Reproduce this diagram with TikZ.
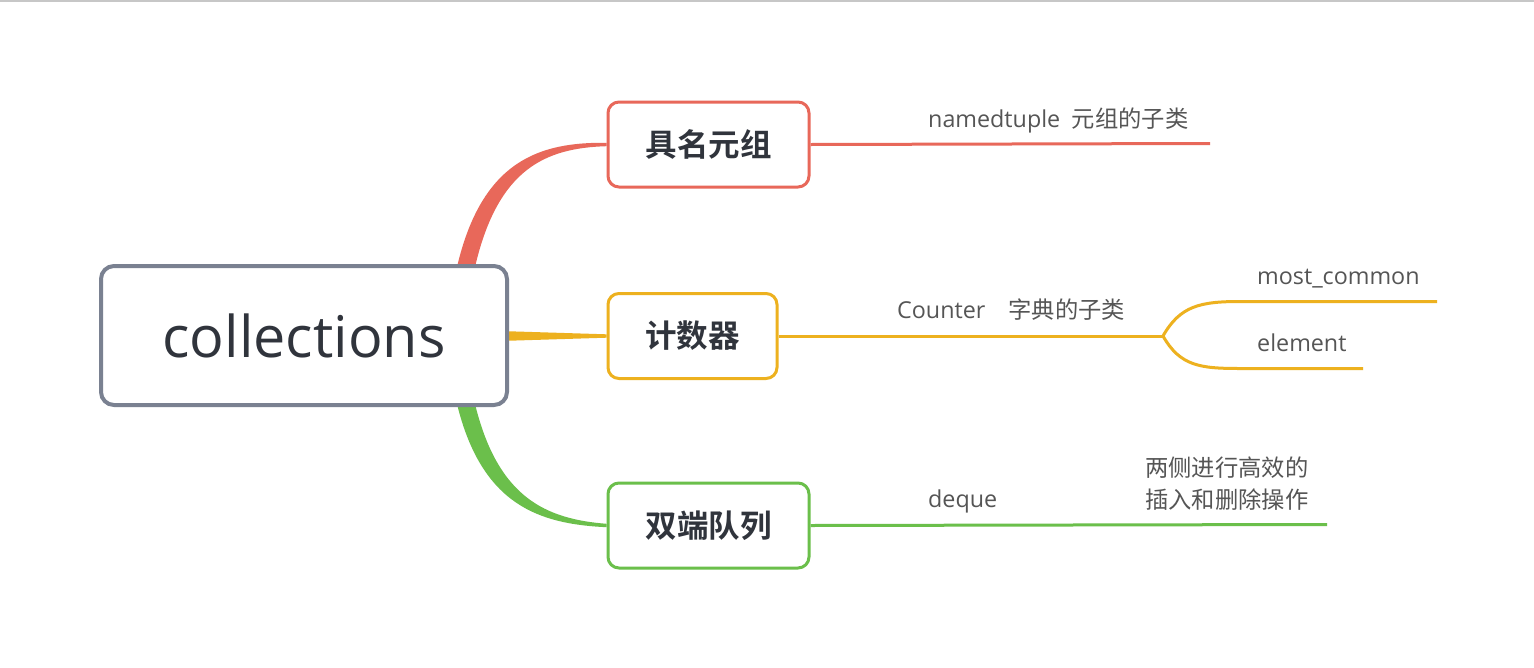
\documentclass[tikz,border=0pt]{standalone}
\usepackage{fontspec}
\setmainfont{Open Sans}
\newfontfamily\cjk{Noto Sans CJK SC}
\newfontfamily\cjkbold{Noto Sans CJK SC Bold}
\usetikzlibrary{calc}
\definecolor{rootline}{HTML}{7A8191}
\definecolor{redbr}{HTML}{E8685A}
\definecolor{yelbr}{HTML}{EDB11F}
\definecolor{grnbr}{HTML}{6BBF4B}
\definecolor{ink}{HTML}{30343C}
\definecolor{leaftext}{HTML}{555555}
\tikzset{
  rootbox/.style={draw=rootline, line width=4pt, rounded corners=13pt, fill=white,
    minimum width=406pt, minimum height=139pt, inner sep=0pt, text=ink,
    font=\fontsize{57.5}{62}\selectfont},
  topicbox/.style={line width=3pt, rounded corners=11pt, fill=white,
    minimum height=85pt, inner sep=0pt, text=ink,
    font=\fontsize{31.5}{36}\selectfont\cjkbold},
  leaf/.style={text=leaftext, inner sep=0pt, anchor=base west,
    font=\fontsize{23.3}{32}\selectfont},
  twig/.style={line width=3pt}
}
\begin{document}
\begin{tikzpicture}[x=1pt,y=-1pt]
\useasboundingbox (0,0) rectangle (1534,667);
\fill[white] (0,0) rectangle (1534,667);
\draw[black!22, line width=2pt] (0,1) -- (1534,1);

% main topics
\node[topicbox, draw=redbr, minimum width=201pt] (named) at (708.5,144.5) {具名元组};
\node[topicbox, draw=yelbr, minimum width=169pt] (counter) at (692.5,336) {计数器};
\node[topicbox, draw=grnbr, minimum width=201pt] (deque) at (708.5,525.5) {双端队列};

% tapered branches from the central topic (drawn below it)
\coordinate (rt) at (466,265);
\coordinate (rb) at (466,406);
\fill[redbr] ($(rt)+(-9,2)$) .. controls (482,160) and (540,142) .. ($(named.west)+(0,-1.7)$)
  -- ($(named.west)+(0,1.7)$) .. controls (546,148) and (498,168) .. ($(rt)+(9,2)$) -- cycle;
\fill[grnbr] ($(rb)+(-9,-2)$) .. controls (482,506) and (540,524) .. ($(deque.west)+(0,1.7)$)
  -- ($(deque.west)+(0,-1.7)$) .. controls (546,519) and (498,498) .. ($(rb)+(9,-2)$) -- cycle;
\coordinate (rm) at (500,336);
\fill[yelbr] ($(rm)+(0,-5)$) -- ($(counter.west)+(0,-1.7)$) -- ($(counter.west)+(0,1.7)$) -- ($(rm)+(0,5)$) -- cycle;

\node[rootbox] (root) at (304,335.5) {collections};

% sub branches
\coordinate (nend) at (1210,143.5);
\draw[twig, redbr] (named.east) -- (nend);
\node[leaf] (ntext) at (928,127) {namedtuple\hspace{0.5em}{\cjk 元组的子类}};

\coordinate (fork) at (1163,336);
\coordinate (mcend) at (1437,301.5);
\coordinate (elend) at (1363,368.5);
\draw[twig, yelbr] (counter.east) -- (fork);
\draw[twig, yelbr] (fork) .. controls (1180,306) and (1200,301.5) .. (1240,301.5) -- (mcend);
\draw[twig, yelbr] (fork) .. controls (1180,366) and (1200,368.5) .. (1240,368.5) -- (elend);
\node[leaf] (ctext) at (897,318) {Counter\hspace{1em}{\cjk 字典的子类}};
\node[leaf] (mctext) at (1257,284) {most\_common};
\node[leaf] (eltext) at (1257,351) {element};

\coordinate (dend) at (1327,524.5);
\draw[twig, grnbr] (deque.east) -- (dend);
\node[leaf] (dtext) at (928,507) {deque};
\node[leaf, align=left, font=\fontsize{23.3}{32}\selectfont\cjk] (dnote) at (1145,508) {两侧进行高效的\\插入和删除操作};
\end{tikzpicture}
\end{document}
